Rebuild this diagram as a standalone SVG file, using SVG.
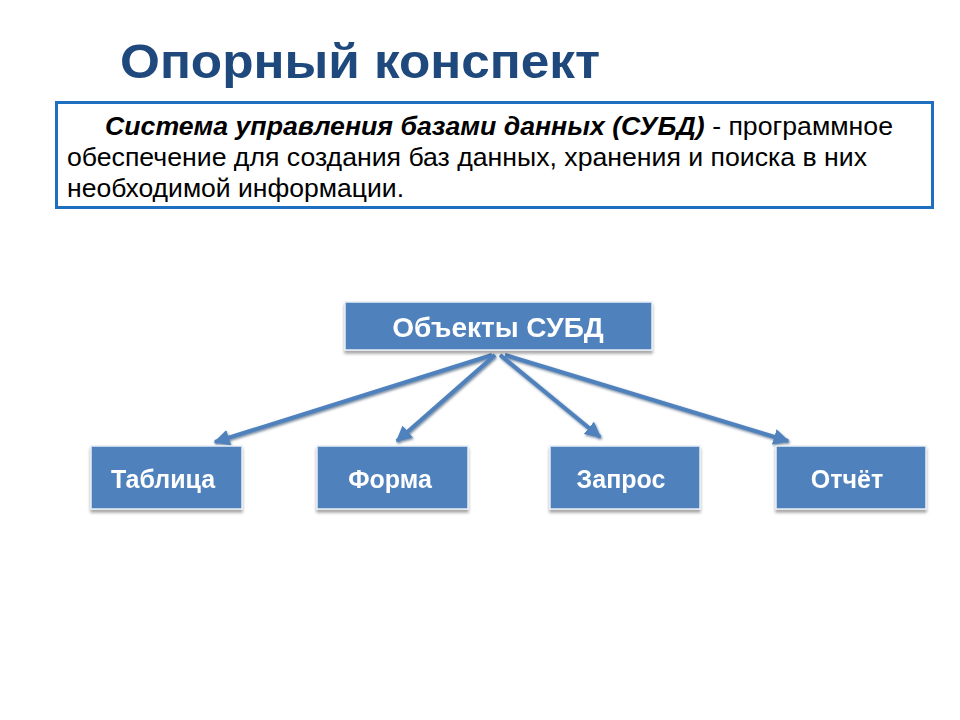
<svg xmlns="http://www.w3.org/2000/svg" width="960" height="720" viewBox="0 0 960 720">
<defs>
<style>
.title{font-family:"Liberation Sans",Arial,sans-serif;font-weight:bold;font-size:48px;fill:#1F497D}
.def{font-family:"Liberation Sans",Arial,sans-serif;font-size:26px;fill:#000}
.bi{font-weight:bold;font-style:italic}
.node rect{fill:#4F81BD;stroke:#E8EEF6;stroke-width:1.5}
.node text{font-family:"Liberation Sans",Arial,sans-serif;font-weight:bold;font-size:25px;fill:#fff;text-anchor:middle}
.conn line{stroke:#4F81BD;stroke-width:4}
</style>
<filter id="sh" x="-10%" y="-10%" width="120%" height="130%">
<feDropShadow dx="0" dy="3" stdDeviation="1.5" flood-color="#000" flood-opacity="0.35"/>
</filter>
<filter id="ash" x="-10%" y="-10%" width="120%" height="130%">
<feDropShadow dx="1" dy="1.5" stdDeviation="0.8" flood-color="#1F3A5F" flood-opacity="0.6"/>
</filter>
<marker id="ah" viewBox="0 0 10 10" refX="9" refY="5" markerWidth="4" markerHeight="4" orient="auto" markerUnits="strokeWidth">
<path d="M0,0 L10,5 L0,10 z" fill="#4F81BD"/>
</marker>
</defs>
<rect width="960" height="720" fill="#fff"/>
<text class="title" x="120" y="78" textLength="480" lengthAdjust="spacingAndGlyphs">Опорный конспект</text>
<g id="definition">
<rect x="56.5" y="102.5" width="876" height="105" fill="#fff" stroke="#1E6FC0" stroke-width="3"/>
<text class="def" x="105" y="135" textLength="788" lengthAdjust="spacingAndGlyphs"><tspan class="bi">Система управления базами данных (СУБД)</tspan> - программное</text>
<text class="def" x="67" y="166" textLength="800" lengthAdjust="spacingAndGlyphs">обеспечение для создания баз данных, хранения и поиска в них</text>
<text class="def" x="67" y="197" textLength="337" lengthAdjust="spacingAndGlyphs">необходимой информации.</text>
</g>
<g id="connectors" class="conn" filter="url(#ash)">
<line x1="492" y1="355" x2="215" y2="442" marker-end="url(#ah)"/>
<line x1="495" y1="355" x2="397" y2="441" marker-end="url(#ah)"/>
<line x1="500" y1="355" x2="600" y2="437" marker-end="url(#ah)"/>
<line x1="505" y1="355" x2="788" y2="441" marker-end="url(#ah)"/>
</g>
<g id="node-root" class="node" filter="url(#sh)">
<rect x="345" y="302" width="307" height="48"/>
<text x="498" y="337" style="font-size:28px">Объекты СУБД</text>
</g>
<g id="node-table" class="node" filter="url(#sh)">
<rect x="91" y="446" width="151" height="63"/>
<text x="163" y="488">Таблица</text>
</g>
<g id="node-form" class="node" filter="url(#sh)">
<rect x="317" y="446" width="151" height="63"/>
<text x="390" y="488">Форма</text>
</g>
<g id="node-query" class="node" filter="url(#sh)">
<rect x="550" y="446" width="150" height="63"/>
<text x="621" y="488">Запрос</text>
</g>
<g id="node-report" class="node" filter="url(#sh)">
<rect x="776" y="446" width="150" height="63"/>
<text x="847" y="488">Отчёт</text>
</g>
</svg>
